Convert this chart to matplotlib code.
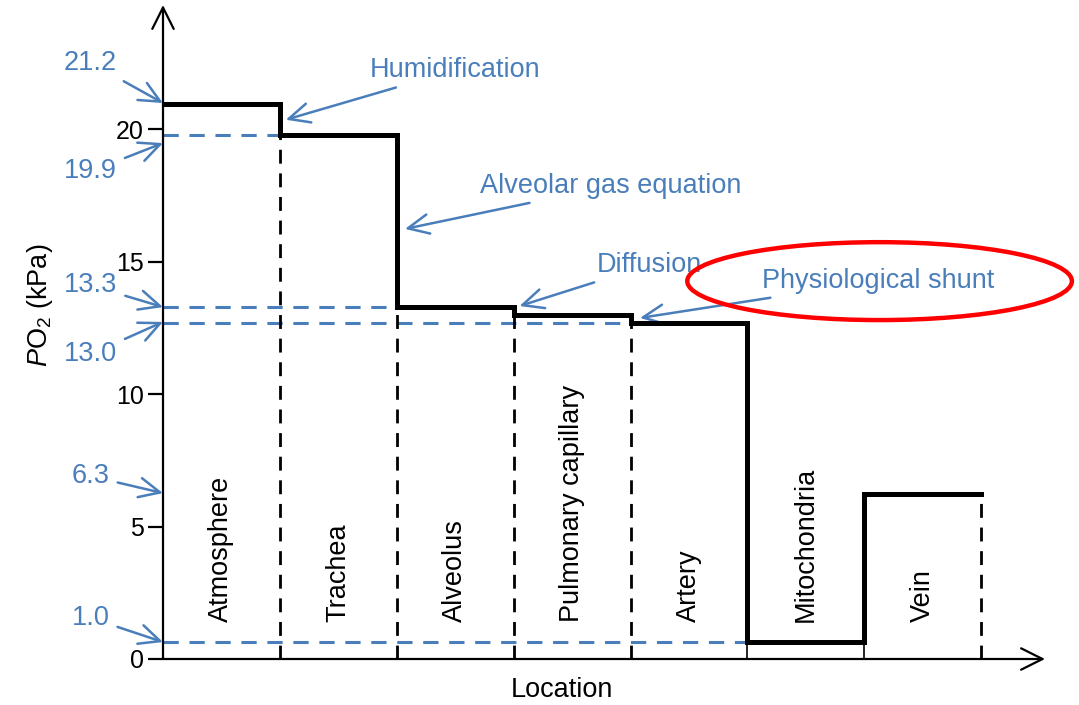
import matplotlib
matplotlib.use('Agg')
import matplotlib.pyplot as plt
from matplotlib.patches import Ellipse

plt.rcParams['font.family'] = ['Liberation Sans', 'DejaVu Sans']
plt.rcParams['mathtext.fontset'] = 'custom'
plt.rcParams['mathtext.rm'] = 'Liberation Sans'
plt.rcParams['mathtext.it'] = 'Liberation Sans:italic'

# step values (kPa)
locations = ['Atmosphere', 'Trachea', 'Alveolus', 'Pulmonary capillary',
             'Artery', 'Mitochondria', 'Vein']
po2 = [20.95, 19.77, 13.28, 12.98, 12.68, 0.64, 6.23]

# blue reference levels: (level, how many segments the dashed line spans)
ref_levels = [19.77, 13.28, 12.68, 0.64]
ref_span = [1, 2, 4, 5]

# value callouts on the y axis
value_labels = ['21.2', '19.9', '13.3', '13.0', '6.3', '1.0']
value_tips = [20.98, 19.47, 13.28, 12.72, 6.26, 0.64]
value_text_y = [22.5, 18.4, 14.1, 11.5, 6.9, 1.55]

# process callouts
process_labels = ['Humidification', 'Alveolar gas equation', 'Diffusion',
                  'Physiological shunt']
process_tips = [(1.05, 20.35), (2.07, 16.23), (3.05, 13.32), (4.08, 12.87)]
process_text = [(1.77, 22.22), (2.71, 17.85), (3.71, 14.87), (5.12, 14.26)]

blue = '#4A7EBB'
fs = 19.5

fig = plt.figure(figsize=(10.79, 7.05), dpi=100)
ax = fig.add_axes([163 / 1079, 46 / 705, 882 / 1079, 654 / 705])
ax.set_xlim(0, 7.545)
ax.set_ylim(0, 24.68)

for s in ax.spines.values():
    s.set_visible(False)

# axes with open arrow heads
arr = dict(arrowstyle='->,head_length=0.7,head_width=0.35', lw=1.6, color='black',
           mutation_scale=22, shrinkA=0, shrinkB=0)
ax.annotate('', xy=(1, 0), xytext=(0, 0), xycoords='axes fraction', arrowprops=arr)
ax.annotate('', xy=(0, 1), xytext=(0, 0), xycoords='axes fraction', arrowprops=arr)

ax.set_xticks([])
ax.set_yticks([0, 5, 10, 15, 20])
ax.tick_params(axis='y', length=11, width=1.6, labelsize=18, pad=3)

# blue dashed reference lines
for lvl, sp in zip(ref_levels, ref_span):
    ax.plot([0, sp], [lvl, lvl], color=blue, lw=2.2, ls=(0, (5, 3.5)), zorder=2)

# black dashed dividers from axis up to the lower step
n = len(po2)
for i in range(1, n + 1):
    top = po2[i - 1] if i == n else min(po2[i - 1], po2[i])
    if i in (5, 6):
        ax.plot([i, i], [0, 0.64], color='black', lw=1.2, zorder=3)
    else:
        ax.plot([i, i], [0, top], color='black', lw=2.0, ls=(0, (5, 3.5)), zorder=3)

# the thick step line
xs, ys = [], []
for i, v in enumerate(po2):
    xs += [i, i + 1]
    ys += [v, v]
ax.plot(xs, ys, color='black', lw=3.6, solid_joinstyle='miter', zorder=4)

# location names
for i, name in enumerate(locations):
    ax.text(i + 0.5, 1.4, name, rotation=90, ha='center', va='bottom', fontsize=fs)

# value callouts
ap_blue = dict(arrowstyle='->,head_length=0.75,head_width=0.35', lw=1.8, color=blue,
               mutation_scale=20, shrinkA=4, shrinkB=0)
for lab, tip, ty in zip(value_labels, value_tips, value_text_y):
    ax.annotate(lab, xy=(0, tip), xytext=(-0.62, ty), ha='center', va='center',
                fontsize=fs, color=blue, arrowprops=ap_blue, annotation_clip=False)

for lab, tip, tx in zip(process_labels, process_tips, process_text):
    ax.annotate(lab, xy=tip, xytext=tx, ha='left', va='center',
                fontsize=fs, color=blue, arrowprops=ap_blue, annotation_clip=False)

ax.add_patch(Ellipse((6.13, 14.26), 3.29, 2.94, fill=False, ec='#FF0000', lw=3.2,
                     clip_on=False, zorder=5))

ax.set_ylabel(r'$P$O$_2$ (kPa)', fontsize=fs)
ax.yaxis.set_label_coords(-0.122, 0.541)
ax.set_xlabel('Location', fontsize=fs)
ax.xaxis.set_label_coords(0.452, -0.027)

fig.savefig('out.png', dpi=100)
